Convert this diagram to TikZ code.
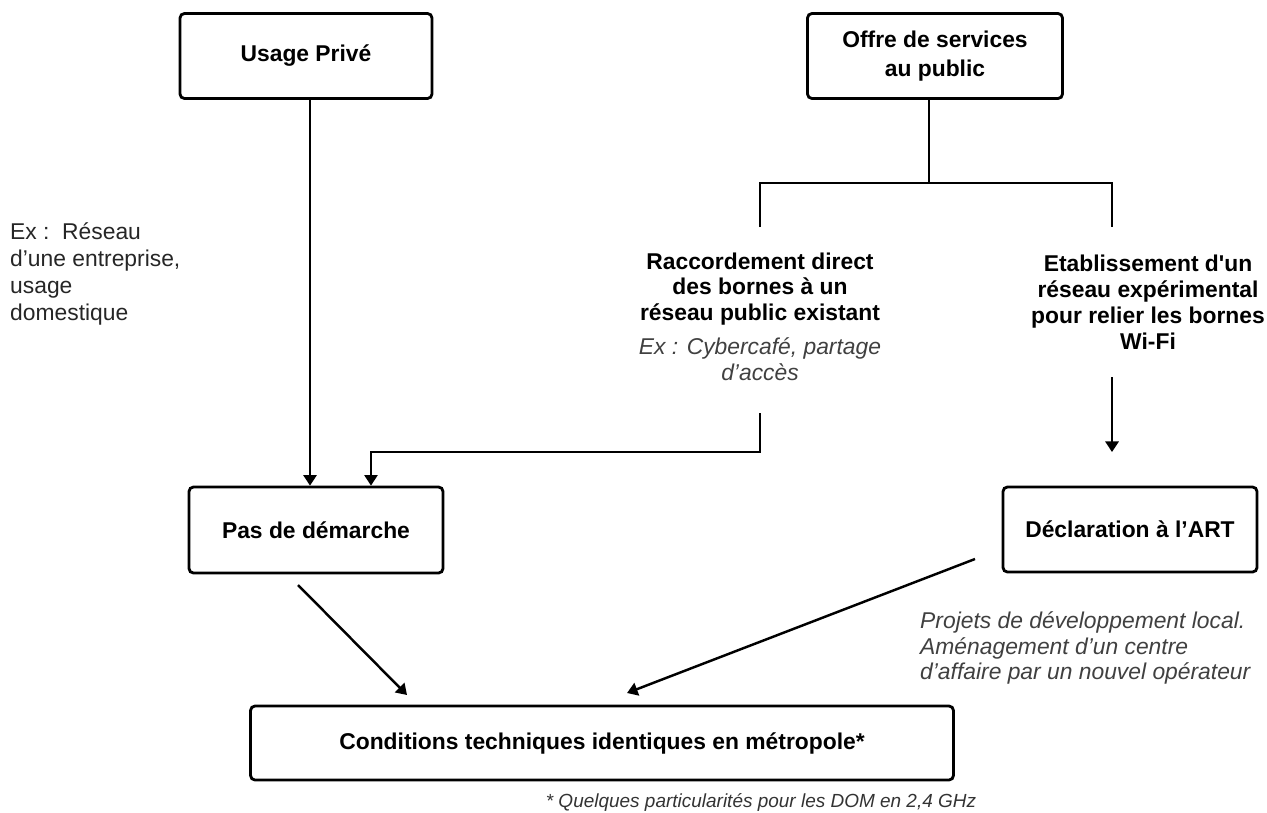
\documentclass[tikz,border=0pt]{standalone}
\usepackage{fontspec}
\setmainfont{Liberation Sans}
\usetikzlibrary{arrows.meta}

\begin{document}
\begin{tikzpicture}[x=0.02cm, y=-0.02cm,
  box/.style={draw, line width=1.6pt, rounded corners=2.5pt, align=center,
    inner sep=0pt, font=\fontsize{13}{14.7}\selectfont\bfseries},
  head/.style={align=center, font=\fontsize{13}{14.7}\selectfont\bfseries},
  example/.style={align=center, text=black!75, font=\fontsize{13}{14.7}\selectfont\itshape},
  link/.style={line width=1.4pt},
  arrow/.style={link, -{Triangle[width=7.5pt,length=6pt]}}]
  \useasboundingbox (0,0) rectangle (1267,812);

  \node[box, minimum width=5.04cm, minimum height=1.7cm] (usage) at (306,56) {Usage Privé};
  \node[box, minimum width=5.1cm, minimum height=1.7cm] (offre) at (935,56) {Offre de services\\[1.5pt]au public};
  \node[box, minimum width=5.08cm, minimum height=1.72cm] (pas) at (316,530) {Pas de démarche};
  \node[box, minimum width=5.08cm, minimum height=1.7cm] (decl) at (1130,529.5) {Déclaration à l’ART};
  \node[box, minimum width=14.06cm, minimum height=1.48cm] (cond) at (602,743) {Conditions techniques identiques en métropole*};

  \node[anchor=west, align=left, text=black!85, font=\fontsize{13}{15.3}\selectfont] (exprive) at (4,274)
    {Ex :~~Réseau\\d’une entreprise,\\usage\\domestique};
  \node[head] (racc) at (760,289) {Raccordement direct\\des bornes à un\\réseau public existant};
  \node[example] (raccex) at (760,359) {Ex : Cybercafé, partage\\d’accès};
  \node[head] (etab) at (1148,302) {Etablissement d\textquotesingle un\\réseau expérimental\\pour relier les bornes\\Wi-Fi};
  \node[example, anchor=west, align=left, font=\fontsize{13}{14.5}\selectfont\itshape] (projets) at (914,648)
    {Projets de développement local.\\Aménagement d’un centre\\d’affaire par un nouvel opérateur};
  \node[text=black!80, font=\fontsize{10.8}{13}\selectfont\itshape] (dom) at (761,802)
    {* Quelques particularités pour les DOM en 2,4 GHz};

  \coordinate (brmid) at (929,183);
  \coordinate (brl) at (760,183);
  \coordinate (brr) at (1112,183);
  \coordinate (brlend) at (760,227);
  \coordinate (brrend) at (1112,227);
  \coordinate (raccend) at (760,413);
  \coordinate (raccturn) at (760,452);
  \coordinate (etabend) at (1112,377);
  \coordinate (etabtip) at (1112,452);
  \coordinate (pasout) at (298,585);
  \coordinate (condinl) at (407,695);
  \coordinate (declout) at (975,559);
  \coordinate (condinr) at (627,693);

  \draw[link] (offre.south -| brmid) -- (brmid);
  \draw[link] (brlend) -- (brl) -- (brr) -- (brrend);
  \draw[arrow] ([xshift=0.08cm]usage.south) -- ([xshift=0.08cm]usage.south |- pas.north);
  \draw[arrow, line width=1.1pt] (raccend) -- (raccturn) -| ([xshift=1.1cm]pas.north);
  \draw[arrow] (etabend) -- (etabtip);
  \draw[arrow] (pasout) -- (condinl);
  \draw[arrow] (declout) -- (condinr);
\end{tikzpicture}
\end{document}
